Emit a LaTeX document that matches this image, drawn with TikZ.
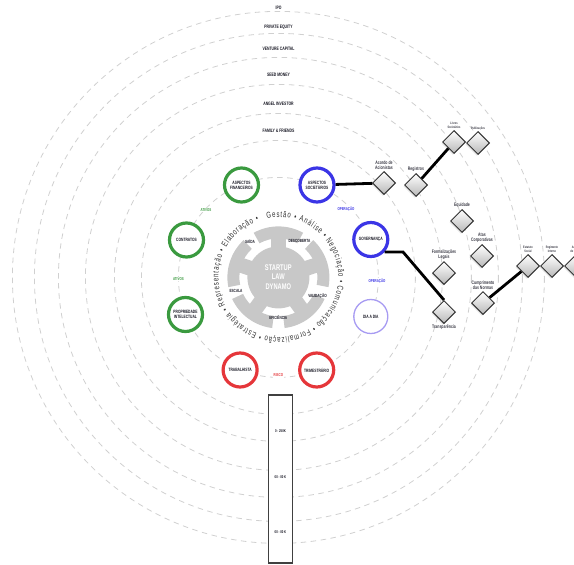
\documentclass[tikz,border=0pt]{standalone}
\usepackage{fontspec}
\setmainfont{Liberation Sans}
\newfontfamily\cond{Liberation Sans}[FakeStretch=0.7]
\usetikzlibrary{shapes.geometric,shadows,decorations.text,calc}
\definecolor{cgreen}{HTML}{3A9A3F}
\definecolor{cblue}{HTML}{3B35E6}
\definecolor{clav}{HTML}{A79BF2}
\definecolor{cred}{HTML}{E5363A}
\definecolor{dashgray}{HTML}{D0D0D0}
\definecolor{geargray}{HTML}{C8C8C8}
\definecolor{ink}{HTML}{1A1A26}
\definecolor{ringtext}{HTML}{333333}
\begin{document}
\begin{tikzpicture}[x=1pt,y=-1pt,
  lbl/.style={font=\cond\bfseries\fontsize{4.9}{5}\selectfont, text=ink, inner sep=1pt},
  ringc/.style={circle, draw, line width=3.2pt, minimum size=34pt, inner sep=0pt, fill=white, align=center, font=\cond\bfseries\fontsize{4.7}{5.2}\selectfont, text=ink},
  grp/.style={font=\cond\bfseries\fontsize{4.2}{5}\selectfont, fill=white, inner sep=1pt},
  dia/.style={diamond, draw=black!80, line width=1pt, minimum size=23pt, inner sep=0pt, top color=white, bottom color=black!28, drop shadow={opacity=0.2, shadow xshift=-1.2pt, shadow yshift=-1.5pt}},
  dlbl/.style={font=\cond\bfseries\fontsize{5}{5.5}\selectfont, text=ink!85, align=center, inner sep=1pt},
  tinyl/.style={font=\cond\bfseries\fontsize{3.4}{3.8}\selectfont, text=ink!85, align=center, inner sep=1pt},
  barl/.style={font=\cond\bfseries\fontsize{4}{4.5}\selectfont, text=ink, inner sep=1pt},
  conn/.style={line width=2.8pt, black},
  dashc/.style={draw=dashgray, line width=0.8pt, dash pattern=on 5.5pt off 4.5pt},
  glbl/.style={font=\cond\bfseries\fontsize{4.5}{5}\selectfont, text=ink, inner sep=0.8pt},
]
\useasboundingbox (0,0) rectangle (574,565);
\clip (0,0) rectangle (574,565);
\coordinate (C) at (278.4,277.4);

% dashed orbits
\foreach \r in {100,137,164,193,220,244,266}
  \draw[dashc] (C) circle[radius=\r];

% top labels
\node[lbl] (ipo) at (278.5,8) {IPO};
\node[lbl] (pe) at (278.5,27) {PRIVATE EQUITY};
\node[lbl] (vc) at (278.5,49) {VENTURE CAPITAL};
\node[lbl] (seed) at (278.5,75) {SEED MONEY};
\node[lbl] (angel) at (278.5,104) {ANGEL INVESTOR};
\node[lbl] (ff) at (278.5,131) {FAMILY \& FRIENDS};

% group labels
\node[grp, text=cgreen] (at1) at (206,210) {ATIVOS};
\node[grp, text=cgreen] (at2) at (178.4,279) {ATIVOS};
\node[grp, text=cblue] (op1) at (346,209) {OPERAÇÃO};
\node[grp, text=cblue] (op2) at (377,281) {OPERAÇÃO};
\node[grp, text=cred] (risco) at (278.4,375.5) {RISCO};

% ring circles
\node[ringc, draw=cgreen] (fin) at (241.5,185) {ASPECTOS\\FINANCEIROS};
\node[ringc, draw=cblue] (soc) at (317,185) {ASPECTOS\\SOCIETÁRIOS};
\node[ringc, draw=cblue] (gov) at (370.8,239.5) {GOVERNANÇA};
\node[ringc, draw=clav, line width=1.3pt] (dia) at (370.8,316.5) {DIA A DIA};
\node[ringc, draw=cred] (tri) at (316.7,370) {TRIMESTRÁRIO};
\node[ringc, draw=cred] (trab) at (240.1,370) {TRABALHISTA};
\node[ringc, draw=cgreen] (pi) at (185.5,314.5) {PROPRIEDADE\\INTELECTUAL};
\node[ringc, draw=cgreen] (contr) at (186.5,240) {CONTRATOS};

% gear
\begin{scope}[shift={(C)}, x=1pt, y=1pt]
  \fill[geargray] (0,0) circle[radius=31];
  \foreach \a in {90,18,-54,-126,162} {
    \fill[geargray, rotate=\a] (0,-7.5) rectangle (44,7.5);
    \fill[geargray] ({\a-29}:39) arc[start angle={\a-29}, end angle={\a+29}, radius=39]
      -- ({\a+29}:51) arc[start angle={\a+29}, end angle={\a-29}, radius=51] -- cycle;
  }
  \path[decorate, decoration={text along path, text align={fit to path},
    text={|\cond\fontsize{8.6}{9}\selectfont\color{ringtext}|Gestão • Análise • Negociação • Comunicação • Formalização • Estratégia • Representação • Elaboração •}}]
    (101:60) arc[start angle=101, end angle=-251, radius=60];
\end{scope}
\node[font=\cond\bfseries\fontsize{8.2}{9.8}\selectfont, text=white, align=center] (dyn) at (278.3,277) {STARTUP\\LAW\\DYNAMO};
\node[glbl] (saida) at (250,242) {SAÍDA};
\node[glbl] (desc) at (299.5,240.5) {DESCOBERTA};
\node[glbl] (esc) at (236,291) {ESCALA};
\node[glbl] (valid) at (317.5,296) {VALIDAÇÃO};
\node[glbl] (efic) at (278.3,317.3) {EFICIÊNCIA};

% bar
\node[draw=black!75, line width=1.2pt, fill=white, minimum width=24pt, minimum height=168pt, inner sep=0pt] (bar) at (280.5,479) {};
\node[barl] (b1) at (280.5,430.7) {0 - 250K};
\node[barl] (b2) at (280.5,476.7) {00 - 00 K};
\node[barl] (b3) at (280.5,531.7) {00 - 00 K};

% diamonds
\node[dia, label={[dlbl]above:{Acordo de\\Acionistas}}] (acordo) at (384,183) {};
\node[dia, label={[dlbl]above:{Registros}}] (reg) at (416,185) {};
\node[dia, label={[tinyl]above:{Livros\\Societários}}] (livros) at (454,142) {};
\node[dia, label={[tinyl]above:{Publicações}}] (pub) at (478,143) {};
\node[dia, label={[dlbl]above:{Equidade}}] (equid) at (462,221) {};
\node[dia, label={[dlbl]above:{Atas\\Corporativas}}] (atas) at (482,256) {};
\node[dia, label={[dlbl]above:{Formalizações\\Legais}}] (formal) at (444,273) {};
\node[dia, label={[dlbl]above:{Cumprimento\\das Normas}}] (cump) at (483,303) {};
\node[dia, label={[dlbl]below:{Transparência}}] (transp) at (444,312) {};
\node[dia, label={[tinyl]above:{Estatuto\\Social}}] (estat) at (528,266) {};
\node[dia, label={[tinyl]above:{Regimento\\Interno}}] (regim) at (552,266) {};
\node[dia, label={[tinyl]above:{Acordo\\de Sócios}}] (ext) at (576,266) {};

% connectors
\draw[conn] (soc) -- (acordo);
\draw[conn] (reg) -- (livros);
\coordinate (gbend) at (403,252);
\draw[conn] (gov.-42) -- (gov.-42 -| gbend) -- (transp.north);
\draw[conn] (cump) -- (estat);
\end{tikzpicture}
\end{document}
